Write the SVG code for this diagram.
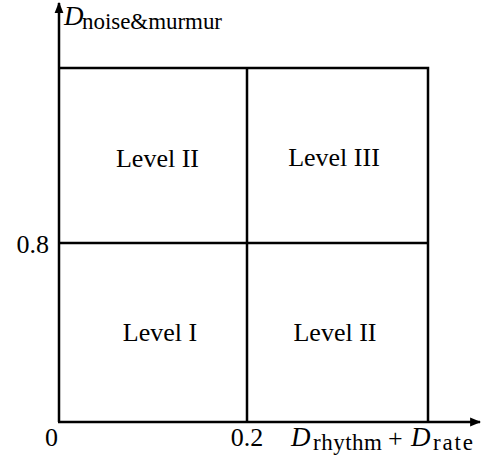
<svg xmlns="http://www.w3.org/2000/svg" width="481" height="462" viewBox="0 0 481 462">
<style>
.ln{stroke:#000;stroke-width:2.5;fill:none}
.t{font-family:"Liberation Serif","Times New Roman",serif;font-size:26px;fill:#000}
.i{font-style:italic;font-size:27px}
.s{font-size:23px}
</style>
<defs>
<marker id="ah" viewBox="0 0 10 10" refX="9" refY="5" markerWidth="11" markerHeight="11" markerUnits="userSpaceOnUse" orient="auto">
<path d="M0,1 L10,5 L0,9 Z" fill="#000"/>
</marker>
</defs>
<g id="connectors">
<line class="ln" x1="59" y1="422" x2="59" y2="3" marker-end="url(#ah)"/>
<line class="ln" x1="58" y1="422" x2="480" y2="422" marker-end="url(#ah)"/>
<polyline class="ln" points="59,68 428,68 428,422"/>
<line class="ln" x1="247" y1="68" x2="247" y2="422"/>
<line class="ln" x1="59" y1="243" x2="428" y2="243"/>
</g>
<g id="cell-tl"><text class="t" x="157.5" y="167" text-anchor="middle">Level II</text></g>
<g id="cell-tr"><text class="t" x="334" y="166" text-anchor="middle">Level III</text></g>
<g id="cell-bl"><text class="t" x="160" y="341" text-anchor="middle">Level I</text></g>
<g id="cell-br"><text class="t" x="335" y="341" text-anchor="middle">Level II</text></g>
<g id="labels">
<text class="t" x="49" y="253" font-size="28" text-anchor="end">0.8</text>
<text class="t" x="51.5" y="446" text-anchor="middle">0</text>
<text class="t" x="247" y="446" text-anchor="middle">0.2</text>
<text class="t i" x="64" y="25">D</text>
<text class="t s" x="82" y="29" textLength="140">noise&amp;murmur</text>
<text class="t i" x="291" y="446">D</text>
<text class="t s" x="313" y="450" textLength="69">rhythm</text>
<text class="t" x="388" y="447" font-size="32">+</text>
<text class="t i" x="411" y="446">D</text>
<text class="t s" x="433" y="450" textLength="40">rate</text>
</g>
</svg>
